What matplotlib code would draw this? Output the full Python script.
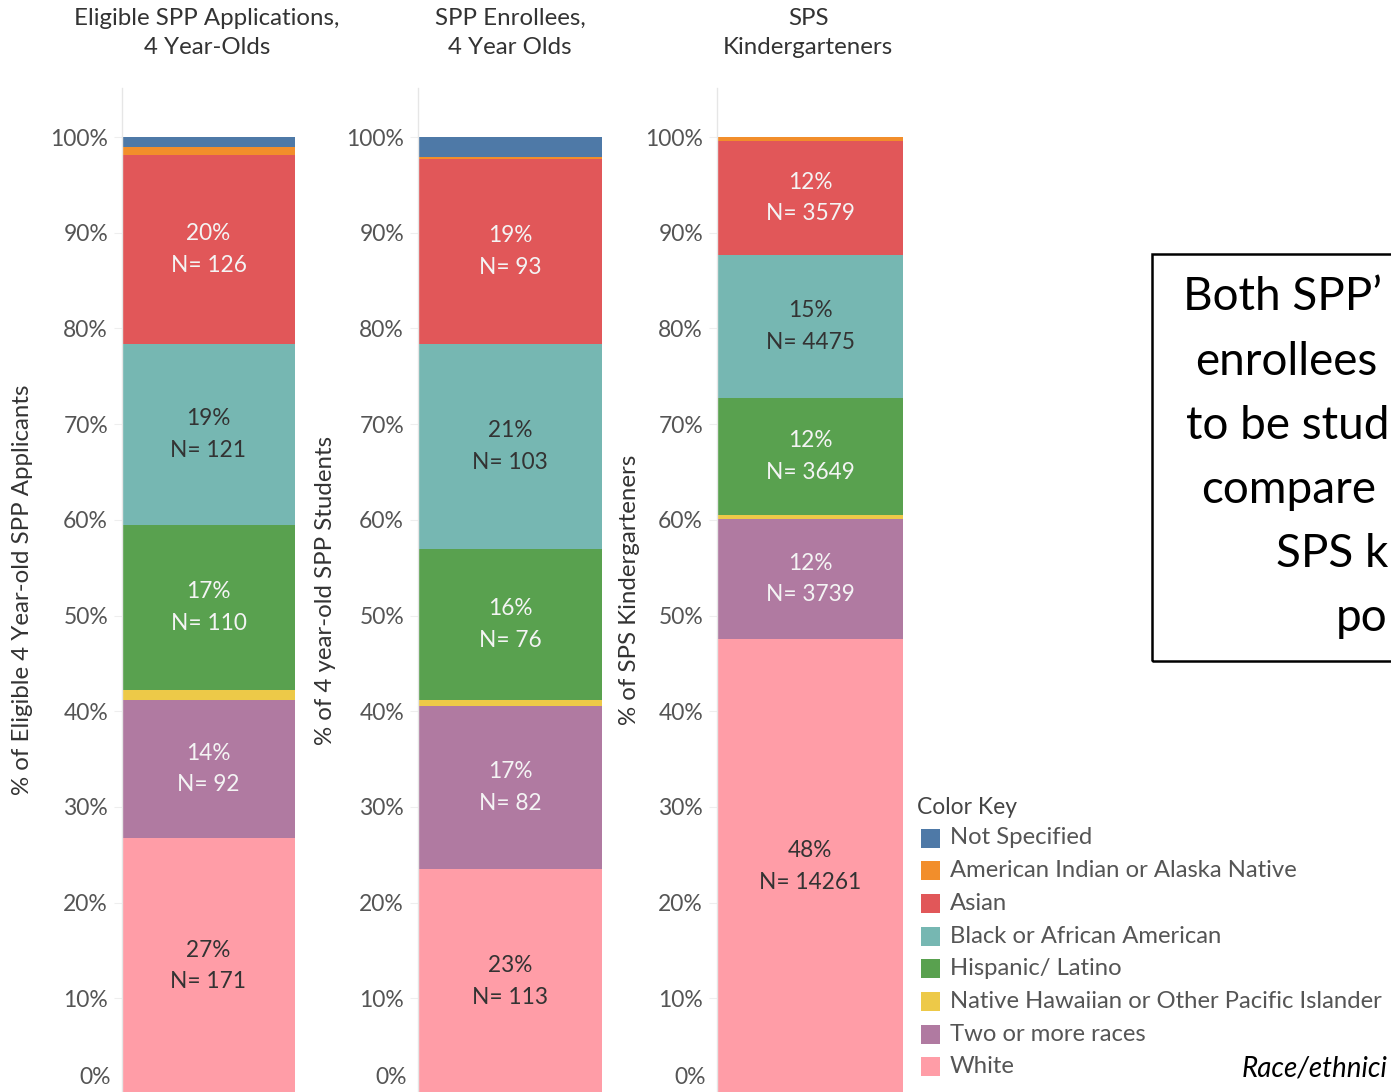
import matplotlib
matplotlib.use("Agg")
import matplotlib.pyplot as plt
from matplotlib.patches import Rectangle

# ---------------- data ----------------
categories = ["Not Specified", "American Indian or Alaska Native", "Asian",
              "Black or African American", "Hispanic/ Latino",
              "Native Hawaiian or Other Pacific Islander", "Two or more races", "White"]
colors = ["#4e79a7", "#f28e2b", "#e15759", "#76b7b2", "#59a14f",
          "#edc948", "#b07aa1", "#ff9da7"]
label_colors = ["#ffffff", "#ffffff", "#f4f4f4", "#333333", "#f4f4f4",
                "#333333", "#f4f4f4", "#333333"]

panel_titles = ["Eligible SPP Applications,\n4 Year-Olds",
                "SPP Enrollees,\n4 Year Olds",
                "SPS\nKindergarteners"]
panel_ylabels = ["% of Eligible 4 Year-old SPP Applicants",
                 "% of 4 year-old SPP Students",
                 "% of SPS Kindergarteners"]

# counts in category order (Not Specified ... White)
applicants = [7, 5, 126, 121, 110, 7, 92, 171]
enrollees = [10, 1, 93, 103, 76, 3, 82, 113]
kindergarteners = [0, 126, 3579, 4475, 3649, 147, 3739, 14261]
panel_counts = [applicants, enrollees, kindergarteners]

tick_values = [0, 10, 20, 30, 40, 50, 60, 70, 80, 90, 100]
tick_labels = [f"{v}%" for v in tick_values]

legend_title = "Color Key"
box_lines = ["Both SPP\u2019", "enrollees", "to be stud", "compare", "SPS k", "po"]
footer_text = "Race/ethnici"

# ---------------- figure ----------------
W, H = 1391, 1092
fig = plt.figure(figsize=(W / 100, H / 100), dpi=100)
plt.rcParams["font.family"] = ["Lato", "DejaVu Sans"]

def fx(px):
    return px / W

def fy(py):
    return 1 - py / H

# bar pixel extents (left, right)
bar_px = [(122, 295), (418, 602), (717, 903)]
y0_px, y100_px, ytop_px = 1094, 137, 88
ppp = (y0_px - y100_px) / 100.0  # pixels per percent
ymax = (y0_px - ytop_px) / ppp
title_cx = [207, 510, 808]
ylabel_x = [23, 325, 630]

text_dark = "#333333"
tick_col = "#555555"
FS_TICK = 16.5
FS_SEG = 16.3
FS_TITLE = 17.3

for i, counts in enumerate(panel_counts):
    l, r = bar_px[i]
    ax = fig.add_axes([fx(l), fy(y0_px), fx(r - l), (y0_px - ytop_px) / H])
    ax.set_xlim(-0.5, 0.5)
    ax.set_ylim(0, ymax)
    total = float(sum(counts))
    pct = [100.0 * c / total for c in counts]
    bottom = 0.0
    # stack from White (last) to Not Specified (first)
    for k in range(len(categories) - 1, -1, -1):
        if pct[k] <= 0:
            continue
        ax.bar(0, pct[k], width=1.0, bottom=bottom, color=colors[k],
               edgecolor="none", linewidth=0)
        if pct[k] >= 5:
            mid = bottom + pct[k] / 2
            ax.text(0, mid, f"{round(pct[k]):.0f}%\nN= {counts[k]}",
                    ha="center", va="center", fontsize=FS_SEG,
                    color=label_colors[k], linespacing=1.62)
        bottom += pct[k]
    for s in ["top", "right", "bottom"]:
        ax.spines[s].set_visible(False)
    ax.spines["left"].set_color("#e6e6e6")
    ax.spines["left"].set_linewidth(1.0)
    ax.set_xticks([])
    ax.set_yticks(tick_values)
    ax.set_yticklabels([""] + tick_labels[1:])
    ax.tick_params(axis="y", length=6, width=0.8, color="#eeeeee",
                   labelsize=FS_TICK, labelcolor=tick_col, pad=4)
    # 0% label sits just above the cropped bottom edge
    fig.text(fx(l - 11), fy(1078), tick_labels[0], ha="right", va="center",
             fontsize=FS_TICK, color=tick_col)
    fig.text(fx(title_cx[i]), fy(33), panel_titles[i], ha="center",
             va="center", fontsize=FS_TITLE, color=text_dark, linespacing=1.5)
    fig.text(fx(ylabel_x[i]), fy(590), panel_ylabels[i], rotation=90,
             ha="center", va="center", fontsize=FS_TITLE, color=text_dark)

# ---------------- legend ----------------
fig.text(fx(917), fy(808), legend_title, ha="left", va="center",
         fontsize=16.5, color="#444444")
row0, drow = 838, 32.7
for k, name in enumerate(categories):
    yc = row0 + k * drow
    fig.patches.append(Rectangle((fx(921), fy(yc + 9.5)), fx(19), 19 / H,
                                 transform=fig.transFigure, facecolor=colors[k],
                                 edgecolor="none"))
    fig.text(fx(950), fy(yc), name, ha="left", va="center",
             fontsize=17.2, color="#555555")

# ---------------- text box ----------------
fig.patches.append(Rectangle((fx(1151.5), fy(660.5)), fx(W + 10 - 1151.5),
                             (660.5 - 253.5) / H, transform=fig.transFigure,
                             facecolor="none", edgecolor="black", linewidth=1.8))
box_x = [1183, 1195, 1186, 1201, 1276, 1336]
box_y = [297, 362, 426, 490, 554, 618]
for t, bx, by in zip(box_lines, box_x, box_y):
    fig.text(fx(bx), fy(by), t, ha="left", va="center", fontsize=33,
             color="black")

fig.text(fx(1242), fy(1068), footer_text, ha="left", va="center",
         fontsize=20, style="italic", color="black")

fig.savefig("out.png", dpi=100)
